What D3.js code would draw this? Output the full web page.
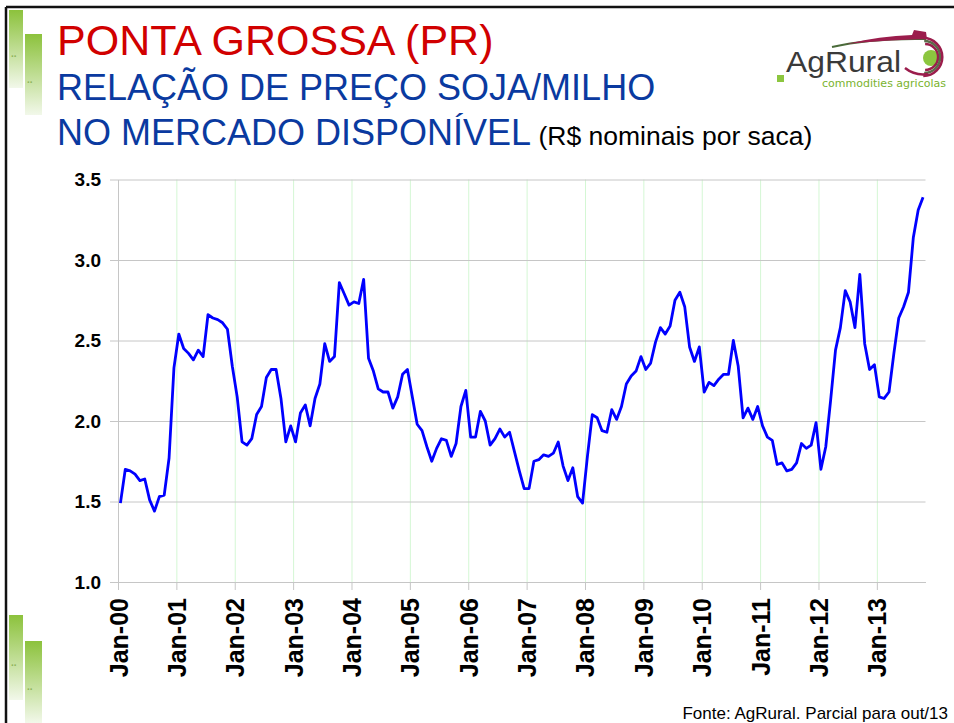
<!DOCTYPE html>
<html>
<head>
<meta charset="utf-8">
<script src="https://cdn.jsdelivr.net/npm/d3@7"></script>
<style>
  body { margin: 0; background: #fff; }
  svg { display: block; font-family: Arial, "Liberation Sans", sans-serif; }
</style>
</head>
<body>
<svg id="chart"></svg>
<script>
// Monthly soy/corn price ratio, Jan-2000 .. Oct-2013
const ratio = [
  1.49, 1.70, 1.69, 1.67, 1.63, 1.64, 1.51, 1.44, 1.53, 1.54, 1.77, 2.33,
  2.54, 2.45, 2.42, 2.38, 2.44, 2.40, 2.66, 2.64, 2.63, 2.61, 2.57, 2.34,
  2.15, 1.87, 1.85, 1.89, 2.04, 2.09, 2.27, 2.32, 2.32, 2.14, 1.87, 1.97,
  1.87, 2.05, 2.10, 1.97, 2.14, 2.23, 2.48, 2.37, 2.40, 2.86, 2.79, 2.72,
  2.74, 2.73, 2.88, 2.39, 2.31, 2.20, 2.18, 2.18, 2.08, 2.15, 2.29, 2.32,
  2.15, 1.98, 1.94, 1.84, 1.75, 1.83, 1.89, 1.88, 1.78, 1.86, 2.09, 2.19,
  1.90, 1.90, 2.06, 2.00, 1.85, 1.89, 1.95, 1.90, 1.93, 1.81, 1.69, 1.58,
  1.58, 1.75, 1.76, 1.79, 1.78, 1.80, 1.87, 1.72, 1.63, 1.71, 1.53, 1.49,
  1.78, 2.04, 2.02, 1.94, 1.93, 2.07, 2.01, 2.09, 2.23, 2.28, 2.31, 2.40,
  2.32, 2.36, 2.49, 2.58, 2.54, 2.59, 2.75, 2.80, 2.71, 2.46, 2.37, 2.46,
  2.18, 2.24, 2.22, 2.26, 2.29, 2.29, 2.50, 2.34, 2.02, 2.08, 2.01, 2.09,
  1.97, 1.90, 1.88, 1.73, 1.74, 1.69, 1.70, 1.74, 1.86, 1.83, 1.85, 1.99,
  1.70, 1.84, 2.13, 2.44, 2.58, 2.81, 2.74, 2.58, 2.91, 2.48, 2.32, 2.35,
  2.15, 2.14, 2.18, 2.42, 2.64, 2.71, 2.80, 3.14, 3.31, 3.39
];
const yearLabels = ["Jan-00", "Jan-01", "Jan-02", "Jan-03", "Jan-04", "Jan-05", "Jan-06",
  "Jan-07", "Jan-08", "Jan-09", "Jan-10", "Jan-11", "Jan-12", "Jan-13"];
const yTicks = [1.0, 1.5, 2.0, 2.5, 3.0, 3.5];

const W = 954, H = 723;
const svg = d3.select("#chart").attr("width", W).attr("height", H);

// slide decoration: frame + green bars
const defs = svg.append("defs");
const grad = defs.append("linearGradient").attr("id", "gbar")
  .attr("x1", 0).attr("y1", 0).attr("x2", 0).attr("y2", 1);
grad.append("stop").attr("offset", "0%").attr("stop-color", "#8cc23c");
grad.append("stop").attr("offset", "100%").attr("stop-color", "#f2f8ea");

const bars = [
  [9, 10, 14, 78], [25, 34, 17, 81],
  [9, 615, 14, 85], [25, 641, 17, 82]
];
bars.forEach(b => {
  svg.append("rect").attr("x", b[0]).attr("y", b[1]).attr("width", b[2]).attr("height", b[3])
    .attr("fill", "url(#gbar)");
  svg.append("text").attr("x", b[0] + 2).attr("y", b[1] + b[3] * 0.6)
    .attr("fill", "#8fb35a").style("font-size", "10px").style("font-weight", "bold").text("..");
});

svg.append("line").attr("x1", 6).attr("x2", W).attr("y1", 7).attr("y2", 7)
  .attr("stroke", "#111").attr("stroke-width", 2.5);
svg.append("line").attr("x1", 6).attr("x2", 6).attr("y1", 7).attr("y2", H)
  .attr("stroke", "#111").attr("stroke-width", 2.5);

// titles
svg.append("text").attr("x", 57).attr("y", 55).attr("fill", "#d10000")
  .style("font-size", "43px").text("PONTA GROSSA (PR)");
svg.append("text").attr("x", 57).attr("y", 100).attr("fill", "#0a3aa0")
  .style("font-size", "36px").text("RELAÇÃO DE PREÇO SOJA/MILHO");
const t3 = svg.append("text").attr("x", 57).attr("y", 145).attr("fill", "#0a3aa0")
  .style("font-size", "36px").text("NO MERCADO DISPONÍVEL");
t3.append("tspan").attr("fill", "#000").style("font-size", "26.5px").text(" (R$ nominais por saca)");

// logo (approximate)
const logo = svg.append("g");
logo.append("path").attr("d", "M832,47 Q870,38 926,39").attr("fill", "none")
  .attr("stroke", "#4a6b3a").attr("stroke-width", 2);
logo.append("path").attr("d", "M846,44 Q880,36 912,35 L914,30 L926,32 L927,39 Q885,40 846,44 Z")
  .attr("fill", "#9b1d4c");
logo.append("circle").attr("cx", 931).attr("cy", 58).attr("r", 8).attr("fill", "#8cc63f");
[13, 16, 19].forEach(r => {
  logo.append("path").attr("d", `M${929 - r * 0.3},${57 - r} A${r},${r} 0 0 1 ${929 - r * 0.3},${57 + r}`)
    .attr("fill", "none").attr("stroke", r === 16 ? "#5c6b4a" : "#9b1d4c").attr("stroke-width", 2.5);
});
logo.append("path").attr("d", "M905,68 Q915,76 928,74").attr("fill", "none")
  .attr("stroke", "#9b1d4c").attr("stroke-width", 2.5);
logo.append("rect").attr("x", 777).attr("y", 75).attr("width", 7).attr("height", 7).attr("fill", "#8cc63f");
logo.append("text").attr("x", 786).attr("y", 72).attr("fill", "#3a3a3a")
  .attr("textLength", 115).attr("lengthAdjust", "spacingAndGlyphs")
  .style("font-size", "30px").text("AgRural");
logo.append("text").attr("x", 822).attr("y", 87).attr("fill", "#7ab32e")
  .style("font-size", "10.5px").attr("textLength", 124).attr("lengthAdjust", "spacingAndGlyphs")
  .style("font-family", "'DejaVu Sans'").text("commodities agricolas");

// chart
const x0 = 118, x1 = 925.5, yTop = 179.5, yBot = 582;
const x = d3.scaleLinear().domain([0, ratio.length]).range([x0, x1]);
const y = d3.scaleLinear().domain([1, 3.5]).range([yBot, yTop]);
const janIdx = yearLabels.map((d, i) => i * 12);

// vertical green gridlines at each January
svg.append("g")
  .attr("transform", `translate(0,${yBot})`)
  .call(d3.axisBottom(x).tickValues(janIdx.slice(1)).tickSize(-(yBot - yTop)).tickFormat(""))
  .call(g => g.select(".domain").remove())
  .call(g => g.selectAll("line").attr("stroke", "#d4f7d4"));

// horizontal gray gridlines with outward ticks
svg.append("g")
  .attr("transform", `translate(${x1},0)`)
  .call(d3.axisLeft(y).tickValues(yTicks).tickSize(x1 - x0 + 8).tickFormat(""))
  .call(g => g.select(".domain").remove())
  .call(g => g.selectAll("line").attr("stroke", "#c6c6c6"));

// y axis line + labels
svg.append("g")
  .attr("transform", `translate(${x0},0)`)
  .call(d3.axisLeft(y).tickValues(yTicks).tickSize(0).tickPadding(17).tickFormat(d3.format(".1f")))
  .call(g => g.select(".domain").attr("stroke", "#c6c6c6"))
  .call(g => g.selectAll("text").attr("fill", "#000")
    .style("font-size", "19px").style("font-weight", "bold").style("font-family", "Arial, 'Liberation Sans'"));

// x axis line, tick marks, rotated labels
svg.append("g")
  .attr("transform", `translate(0,${yBot})`)
  .call(d3.axisBottom(x).tickValues(janIdx).tickSize(8).tickSizeOuter(0)
    .tickFormat((d, i) => yearLabels[i]))
  .call(g => g.select(".domain").attr("stroke", "#c6c6c6"))
  .call(g => g.selectAll("line").attr("stroke", "#c6c6c6"))
  .call(g => g.selectAll("text")
    .attr("transform", "rotate(-90)")
    .attr("x", -16).attr("y", 0).attr("dy", "0.36em")
    .style("text-anchor", "end").attr("fill", "#000")
    .style("font-size", "25px").style("font-weight", "bold").style("font-family", "Arial, 'Liberation Sans'"));

// data line
const line = d3.line()
  .x((d, i) => x(i + 0.5))
  .y(d => y(d));
svg.append("path").datum(ratio)
  .attr("d", line)
  .attr("fill", "none")
  .attr("stroke", "#0000ff")
  .attr("stroke-width", 2.8)
  .attr("stroke-linejoin", "round");

// source
svg.append("text").attr("x", 948).attr("y", 719).attr("text-anchor", "end")
  .style("font-size", "17px").attr("fill", "#000").text("Fonte: AgRural. Parcial para out/13");
</script>
</body>
</html>
